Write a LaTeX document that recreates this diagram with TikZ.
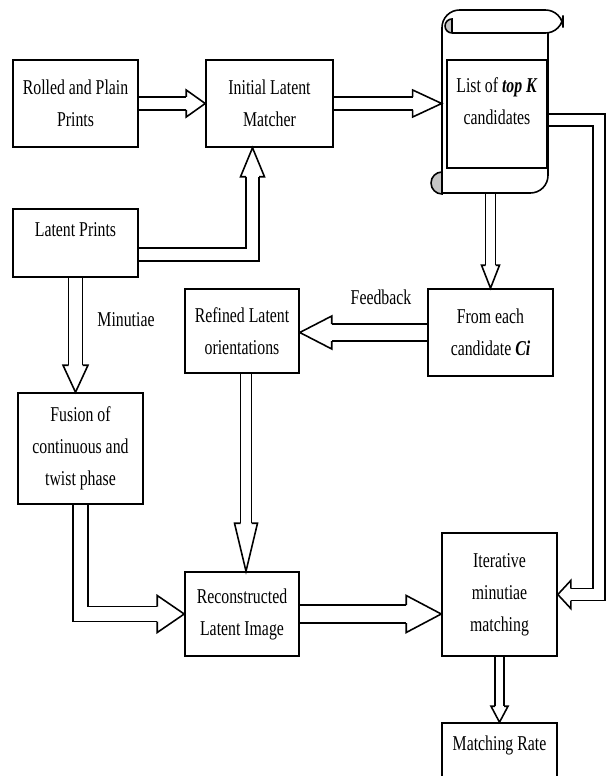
\documentclass[tikz,border=0pt]{standalone}
\usepackage{fontspec}
\setmainfont{Liberation Serif}[FakeStretch=0.75]
\usetikzlibrary{calc,backgrounds}

\tikzset{
  box/.style={draw, line width=0.9pt, inner sep=0pt, align=center},
  shaft/.style={draw, line width=0.9pt, double=white, double distance=#1*0.02cm-0.9pt, line join=miter},
  pics/head/.style n args={3}{code={\draw[line width=0.9pt, line join=miter] (-#3,#1) -- (-#3,#2) -- (0,0) -- (-#3,-#2) -- (-#3,-#1);}},
}

\begin{document}
\begin{tikzpicture}[x=0.02cm, y=-0.02cm, font=\fontsize{12}{18.2}\selectfont]
  \useasboundingbox (0,0) rectangle (605,776);

  % Cajas del diagrama
  \node[box, minimum width=2.5cm, minimum height=1.74cm] (roll) at (75.5,103.5) {Rolled and Plain\\Prints};
  \node[box, minimum width=2.54cm, minimum height=1.74cm] (init) at (269.5,103.5) {Initial Latent\\Matcher};
  \node[box, minimum width=2.5cm, minimum height=1.36cm, text depth=0.52cm] (latent) at (75.5,243) {Latent Prints};
  \node[box, minimum width=2.28cm, minimum height=1.68cm] (refined) at (242,331) {Refined Latent\\orientations};
  \node[box, minimum width=2.5cm, minimum height=1.74cm] (from) at (490.5,332.5) {From each\\candidate \textbf{\textit{Ci}}};
  \node[box, minimum width=2.5cm, minimum height=2.22cm] (fusion) at (80.5,448.5) {Fusion of\\continuous and\\twist phase};
  \node[box, minimum width=2.28cm, minimum height=1.68cm] (recon) at (242,614) {Reconstructed\\Latent Image};
  \node[box, minimum width=2.3cm, minimum height=2.46cm] (iter) at (499.5,594.5) {Iterative\\minutiae\\matching};
  \node[box, minimum width=2.3cm, minimum height=1.6cm, text depth=0.8cm] (rate) at (499.5,763) {Matching Rate};

  % Pergamino con la lista de candidatos
  \node[inner sep=0pt, minimum width=2.12cm, minimum height=3.66cm] (scroll) at (495,101.5) {};
  \node[box, minimum width=2cm, minimum height=2.16cm] (listbox) at (497,114) {};
  \node[inner sep=0pt, align=center] (list) at ($(listbox.center)+(0,-13)$) {List of \textbf{\textit{top K}}\\candidates};
  \draw[line width=0.9pt, rounded corners=10] (442,172) -- (442,10) -- (563,10) -- (563,33) -- (452,33);
  \draw[line width=0.9pt, rounded corners=10] (548,33) -- (548,193) -- (442,193);
  \filldraw[line width=0.9pt, fill=gray!45] (452,19) arc[start angle=-90, end angle=-270, radius=7] -- cycle;
  \filldraw[line width=0.9pt, fill=gray!45] (442,172) arc[start angle=-90, end angle=-270, radius=11] -- cycle;

  % Etiquetas
  \node[inner sep=0pt] (minlbl) at (126,320) {Minutiae};
  \node[inner sep=0pt] (fblbl) at (381,297) {Feedback};

  % Flechas huecas
  \begin{scope}[on background layer]
    \draw[shaft=13] (roll.east) -- ($(init.west)+(-19,0)$);
    \pic at (init.west) {head={6.5}{13.5}{19}};

    \draw[shaft=13] (init.east) -- ($(scroll.west |- init.east)+(-29,0)$);
    \pic at (scroll.west |- init.east) {head={6.5}{13.5}{29}};

    \draw[shaft=10] (from.north |- scroll.south) -- ($(from.north)+(0,-23)$);
    \pic[rotate=-90] at (from.north) {head={5}{9}{23}};

    \draw[shaft=13] ($(latent.east)+(0,11.5)$) -| ($(init.south)+(-17,29)$);
    \pic[rotate=90] at ($(init.south)+(-17,0)$) {head={6.5}{12}{29}};

    \draw[shaft=14] (latent.south) -- ($(latent.south |- fusion.north)+(0,-27)$);
    \pic[rotate=-90] at (latent.south |- fusion.north) {head={7}{12.5}{27}};

    \draw[shaft=17] (from.west) -- ($(refined.east |- from.west)+(32,0)$);
    \pic[rotate=180] at (refined.east |- from.west) {head={8.5}{16.5}{32}};

    \draw[shaft=11] ($(refined.south)+(4,0)$) -- ($(recon.north)+(4,-48)$);
    \pic[rotate=-90] at ($(recon.north)+(4,0)$) {head={5.5}{11.5}{48}};

    \draw[shaft=15] (fusion.south) |- ($(recon.west)+(-27,0)$);
    \pic at (recon.west) {head={7.5}{18.5}{27}};

    \draw[shaft=18] (recon.east) -- ($(iter.west |- recon.east)+(-35,0)$);
    \pic at (iter.west |- recon.east) {head={9}{18.5}{35}};

    \draw[shaft=9] (iter.south) -- ($(rate.north)+(0,-16)$);
    \pic[rotate=-90] at (rate.north) {head={4.5}{8.5}{16}};

    \draw[shaft=12] ($(scroll.east)+(0,18.5)$) -| ($(iter.east)+(41,0)$) -- ($(iter.east)+(13,0)$);
    \pic[rotate=180] at (iter.east) {head={6}{14}{13}};
  \end{scope}
\end{tikzpicture}
\end{document}
